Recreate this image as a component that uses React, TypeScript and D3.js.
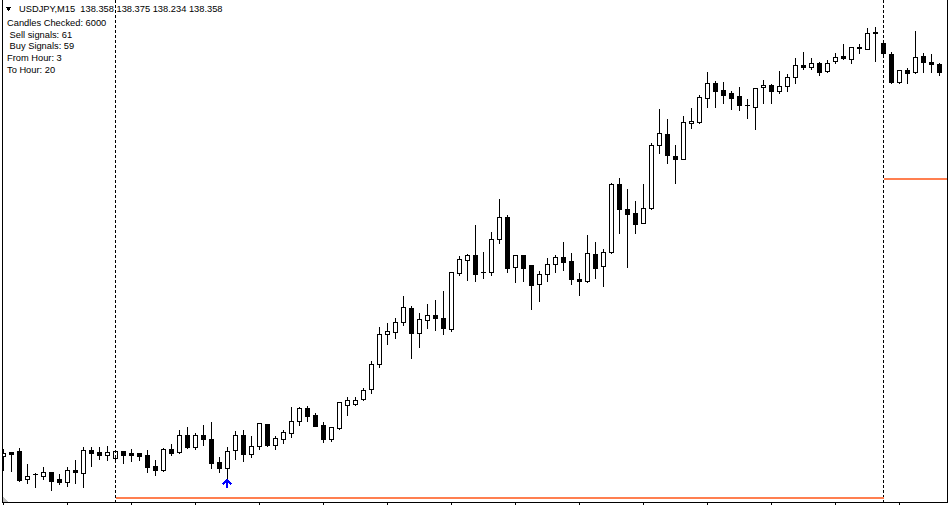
import React from 'react';
import * as d3 from 'd3';

const W = 948;
const H = 505;

// USDJPY M15 candles (O/H/L/C)
const openP = [
  136.44, 136.46, 136.465, 136.327, 136.35, 136.342, 136.36, 136.325, 136.308, 136.37,
  136.353, 136.47, 136.46, 136.446, 136.428, 136.463, 136.455, 136.455, 136.445, 136.392,
  136.37, 136.475, 136.458, 136.543, 136.486, 136.543, 136.525, 136.408, 136.378, 136.468,
  136.543, 136.451, 136.492, 136.599, 136.497, 136.527, 136.553, 136.613, 136.678, 136.645,
  136.595, 136.526, 136.58, 136.696, 136.701, 136.723, 136.773, 136.898, 137.048, 137.058,
  137.11, 137.178, 137.053, 137.118, 137.143, 137.128, 137.076, 137.357, 137.418, 137.443,
  137.36, 137.358, 137.523, 137.633, 137.383, 137.443, 137.393, 137.298, 137.348, 137.398,
  137.433, 137.415, 137.325, 137.313, 137.448, 137.388, 137.458, 137.798, 137.673, 137.653,
  137.606, 137.678, 137.993, 138.048, 137.938, 137.925, 138.103, 138.108, 138.228, 138.303,
  138.268, 138.255, 138.238, 138.193, 138.183, 138.283, 138.293, 138.267, 138.288, 138.333,
  138.396, 138.386, 138.405, 138.363, 138.413, 138.44, 138.423, 138.48, 138.476, 138.558,
  138.503, 138.45, 138.308, 138.37, 138.358, 138.44, 138.411, 138.398,
];
const highP = [
  136.475, 136.462, 136.48, 136.40, 136.357, 136.385, 136.36, 136.35, 136.383, 136.42,
  136.483, 136.485, 136.486, 136.49, 136.465, 136.465, 136.476, 136.455, 136.471, 136.418,
  136.482, 136.499, 136.57, 136.584, 136.557, 136.595, 136.611, 136.435, 136.486, 136.565,
  136.57, 136.54, 136.605, 136.60, 136.541, 136.57, 136.685, 136.686, 136.69, 136.653,
  136.609, 136.585, 136.712, 136.736, 136.735, 136.78, 136.913, 137.083, 137.103, 137.128,
  137.24, 137.19, 137.153, 137.20, 137.22, 137.265, 137.36, 137.44, 137.45, 137.595,
  137.46, 137.558, 137.723, 137.645, 137.445, 137.445, 137.395, 137.365, 137.428, 137.445,
  137.51, 137.455, 137.355, 137.545, 137.51, 137.473, 137.807, 137.828, 137.773, 137.713,
  137.798, 138.003, 138.173, 138.123, 137.993, 138.14, 138.178, 138.245, 138.358, 138.315,
  138.31, 138.265, 138.285, 138.225, 138.28, 138.318, 138.30, 138.365, 138.348, 138.428,
  138.46, 138.43, 138.411, 138.418, 138.453, 138.50, 138.485, 138.498, 138.58, 138.586,
  138.505, 138.461, 138.37, 138.378, 138.565, 138.453, 138.45, 138.403,
];
const lowP = [
  136.37, 136.367, 136.315, 136.307, 136.287, 136.327, 136.27, 136.30, 136.292, 136.305,
  136.283, 136.392, 136.423, 136.421, 136.427, 136.407, 136.416, 136.42, 136.358, 136.347,
  136.365, 136.447, 136.457, 136.48, 136.473, 136.495, 136.378, 136.361, 136.331, 136.423,
  136.416, 136.436, 136.476, 136.49, 136.477, 136.507, 136.536, 136.597, 136.616, 136.59,
  136.511, 136.515, 136.576, 136.646, 136.695, 136.721, 136.756, 136.886, 137.001, 137.028,
  137.096, 136.931, 136.986, 137.081, 137.07, 137.051, 137.066, 137.345, 137.32, 137.316,
  137.331, 137.345, 137.503, 137.361, 137.311, 137.316, 137.176, 137.216, 137.316, 137.361,
  137.37, 137.30, 137.245, 137.312, 137.331, 137.291, 137.457, 137.556, 137.383, 137.553,
  137.603, 137.677, 137.953, 137.903, 137.803, 137.923, 138.081, 138.103, 138.186, 138.186,
  138.206, 138.176, 138.171, 138.131, 138.073, 138.206, 138.206, 138.256, 138.266, 138.306,
  138.373, 138.373, 138.346, 138.362, 138.403, 138.427, 138.403, 138.453, 138.473, 138.416,
  138.452, 138.303, 138.303, 138.303, 138.353, 138.361, 138.361, 138.345,
];
const closeP = [
  136.453, 136.452, 136.32, 136.34, 136.35, 136.36, 136.316, 136.31, 136.368, 136.361,
  136.468, 136.456, 136.446, 136.46, 136.463, 136.443, 136.446, 136.441, 136.386, 136.371,
  136.473, 136.457, 136.543, 136.486, 136.543, 136.526, 136.406, 136.378, 136.463, 136.543,
  136.452, 136.49, 136.603, 136.495, 136.528, 136.558, 136.613, 136.678, 136.641, 136.591,
  136.526, 136.583, 136.708, 136.718, 136.718, 136.768, 136.898, 137.048, 137.065, 137.108,
  137.183, 137.053, 137.123, 137.143, 137.131, 137.081, 137.358, 137.423, 137.443, 137.348,
  137.36, 137.523, 137.633, 137.381, 137.443, 137.381, 137.293, 137.348, 137.398, 137.433,
  137.411, 137.323, 137.313, 137.453, 137.381, 137.458, 137.798, 137.673, 137.648, 137.598,
  137.68, 137.993, 138.053, 137.946, 137.926, 138.108, 138.113, 138.233, 138.303, 138.266,
  138.246, 138.231, 138.196, 138.193, 138.278, 138.293, 138.266, 138.288, 138.333, 138.393,
  138.386, 138.403, 138.361, 138.403, 138.433, 138.428, 138.483, 138.483, 138.553, 138.553,
  138.453, 138.311, 138.368, 138.353, 138.433, 138.408, 138.398, 138.361,
];

// session markers / levels / signals
const sessionBars = [14, 110];
const lowerLevel = 136.23;
const upperLevel = 137.825;
const buyArrowBars = [28];
const tickStep = 8;

const headerText = 'USDJPY,M15  138.358 138.375 138.234 138.358';
const infoLines = ['Candles Checked: 6000', ' Sell signals: 61', ' Buy Signals: 59', 'From Hour: 3', 'To Hour: 20'];

const FONT = '"Liberation Sans", Arial, sans-serif';

export default function App() {
  const n = openP.length;
  const plotBottom = 502;
  const x = d3.scaleLinear().domain([0, n - 1]).range([3.5, 3.5 + 8 * (n - 1)]);
  const y = d3.scaleLinear().domain([138.72, 136.21]).range([0, plotBottom]);
  const row = (p: number) => Math.round(y(p));

  const candles = d3.range(n).map((i) => {
    const o = openP[i], h = highP[i], l = lowP[i], c = closeP[i];
    const cx = x(i);
    const top = row(Math.max(o, c));
    const bot = row(Math.min(o, c));
    const bull = c >= o;
    return (
      <g key={i}>
        <line x1={cx} x2={cx} y1={row(h)} y2={row(l) + 1} stroke="#000" strokeWidth={1} />
        {bot - top < 1 ? (
          <line x1={cx - 2.5} x2={cx + 2.5} y1={top + 0.5} y2={top + 0.5} stroke="#000" strokeWidth={1} />
        ) : (
          <rect x={cx - 2} y={top + 0.5} width={4} height={bot - top} fill={bull ? '#fff' : '#000'} stroke="#000" strokeWidth={1} />
        )}
      </g>
    );
  });

  const ticks = d3.range(0, n, tickStep).map((i) => (
    <line key={'t' + i} x1={x(i)} x2={x(i)} y1={plotBottom} y2={505} stroke="#000" strokeWidth={1} />
  ));

  const xs0 = x(sessionBars[0]);
  const xs1 = x(sessionBars[1]);

  const arrows = buyArrowBars.map((i) => {
    const cx = x(i) - 0.5;
    const tip = y(lowP[i]) + 1.5;
    return (
      <g key={'a' + i} stroke="#0000ff" strokeWidth={2} fill="none">
        <polyline points={`${cx - 4},${tip + 5} ${cx},${tip + 1} ${cx + 4},${tip + 5}`} />
        <line x1={cx} x2={cx} y1={tip} y2={tip + 9} />
      </g>
    );
  });

  return (
    <div style={{ position: 'fixed', left: 0, top: 0, width: W, height: H, background: '#fff' }}>
      <svg width={W} height={H} style={{ display: 'block' }} shapeRendering="crispEdges">
        <rect x={0} y={0} width={W} height={H} fill="#fff" />
        <defs>
          <clipPath id="plot">
            <rect x={3} y={0} width={944} height={plotBottom} />
          </clipPath>
        </defs>
        <g clipPath="url(#plot)">{candles}</g>
        {/* session dashed lines */}
        <line x1={xs0} x2={xs0} y1={0} y2={plotBottom} stroke="#000" strokeDasharray="3,2" />
        <line x1={xs1} x2={xs1} y1={0} y2={plotBottom} stroke="#000" strokeDasharray="3,2" />
        {/* levels */}
        <line x1={xs0} x2={xs1} y1={y(lowerLevel)} y2={y(lowerLevel)} stroke="#FF7F50" strokeWidth={2} />
        <line x1={xs1 + 0.5} x2={947} y1={y(upperLevel)} y2={y(upperLevel)} stroke="#FF7F50" strokeWidth={2} />
        {arrows}
        {/* frame */}
        <line x1={2.5} x2={2.5} y1={0} y2={plotBottom + 1} stroke="#000" />
        <line x1={947.5} x2={947.5} y1={0} y2={plotBottom + 1} stroke="#000" />
        <line x1={2} x2={948} y1={plotBottom + 0.5} y2={plotBottom + 0.5} stroke="#000" />
        {ticks}
        <polygon points="3,497 3,502 8,502" fill="#c0c0c0" />
        {/* header */}
        <polygon points="5.5,7 11.5,7 8.5,11" fill="#000" />
        <g shapeRendering="auto" fontFamily={FONT} fontSize={9.3} fill="#000">
          <text x={19} y={12} style={{ whiteSpace: 'pre' }}>{headerText}</text>
          {infoLines.map((t, i) => (
            <text key={i} x={7} y={26 + i * 11.7} style={{ whiteSpace: 'pre' }}>{t}</text>
          ))}
        </g>
      </svg>
    </div>
  );
}
